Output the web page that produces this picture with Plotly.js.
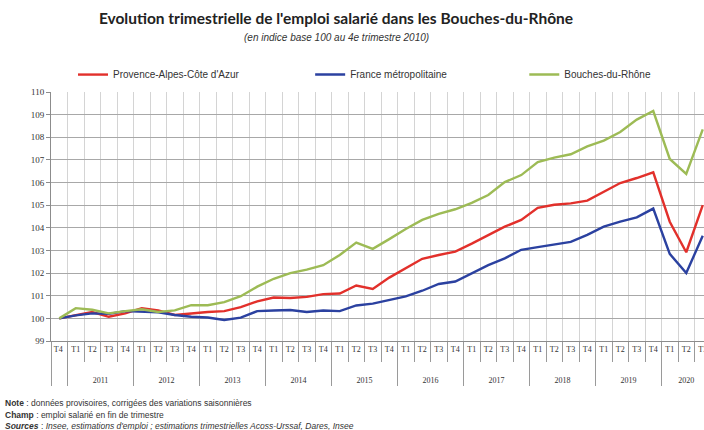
<!DOCTYPE html>
<html>
<head>
<meta charset="utf-8">
<script src="https://cdn.plot.ly/plotly-3.0.1.min.js"></script>
<style>
html,body{margin:0;padding:0;overflow:hidden;background:#fff;}
#chart{width:720px;height:430px;}
</style>
</head>
<body>
<div id="chart"></div>
<script>
const years = [' ',
  '2011','2011','2011','2011',
  '2012','2012','2012','2012',
  '2013','2013','2013','2013',
  '2014','2014','2014','2014',
  '2015','2015','2015','2015',
  '2016','2016','2016','2016',
  '2017','2017','2017','2017',
  '2018','2018','2018','2018',
  '2019','2019','2019','2019',
  '2020','2020','2020'];
const quarters = ['T4 ',
  'T1','T2','T3','T4',
  'T1','T2','T3','T4',
  'T1','T2','T3','T4',
  'T1','T2','T3','T4',
  'T1','T2','T3','T4',
  'T1','T2','T3','T4',
  'T1','T2','T3','T4',
  'T1','T2','T3','T4',
  'T1','T2','T3','T4',
  'T1','T2','T3'];

const paca = [100.0,
  100.15,100.28,100.07,100.22,
  100.45,100.35,100.15,100.22,
  100.28,100.32,100.50,100.75,
  100.92,100.90,100.95,101.07,
  101.10,101.45,101.30,101.80,
  102.20,102.63,102.80,102.95,
  103.30,103.68,104.05,104.35,
  104.88,105.02,105.08,105.20,
  105.60,105.98,106.20,106.45,
  104.27,102.92,105.00];

const france = [100.0,
  100.13,100.22,100.20,100.32,
  100.30,100.27,100.15,100.07,
  100.04,99.93,100.03,100.32,
  100.35,100.37,100.28,100.35,
  100.32,100.57,100.65,100.82,
  100.97,101.22,101.52,101.63,
  102.00,102.35,102.65,103.03,
  103.15,103.25,103.38,103.69,
  104.05,104.27,104.46,104.85,
  102.85,102.00,103.65];

const bdr = [100.0,
  100.45,100.38,100.22,100.32,
  100.40,100.28,100.35,100.58,
  100.58,100.72,100.98,101.40,
  101.75,102.00,102.15,102.35,
  102.80,103.35,103.07,103.50,
  103.95,104.35,104.62,104.82,
  105.10,105.45,106.02,106.33,
  106.90,107.10,107.25,107.60,
  107.85,108.23,108.78,109.16,
  107.04,106.38,108.35];

const seriesNames = ["Provence-Alpes-Côte d'Azur", "France métropolitaine", "Bouches-du-Rhône"];
const seriesColors = ['#e2302b', '#2b41a0', '#9dbb55'];
const seriesValues = [paca, france, bdr];
const legendIds = ['legend', 'legend2', 'legend3'];

// extra blank line under quarter labels pushes the year row down (as in the reference)
const quarterCells = quarters.map(q => q + '<br> <br> ');

const traces = seriesValues.map((vals, k) => ({
  type: 'scatter',
  mode: 'lines',
  x: [years, quarterCells],
  y: vals,
  name: seriesNames[k],
  legend: legendIds[k],
  line: {color: seriesColors[k], width: 2.4},
  hoverinfo: 'skip'
}));

const legendBase = {
  orientation: 'h',
  xanchor: 'left',
  yanchor: 'middle',
  y: 1.07,
  bgcolor: 'rgba(0,0,0,0)',
  font: {family: 'Liberation Sans, Arial, sans-serif', size: 10, color: '#333'},
  itemwidth: 30,
  tracegroupgap: 0
};

const noteFont = {family: 'Liberation Sans, Arial, sans-serif', size: 8.5, color: '#333'};

const layout = {
  width: 720,
  height: 430,
  margin: {l: 51, r: 9.4, t: 91.5, b: 88.5},
  paper_bgcolor: '#fff',
  plot_bgcolor: '#fff',
  showlegend: true,
  title: {
    text: "<b>Evolution trimestrielle de l'emploi salarié dans les Bouches-du-Rhône</b>",
    font: {family: 'Lato, Open Sans, sans-serif', size: 15.5, color: '#222'},
    x: 336/720, xanchor: 'center', xref: 'container',
    y: 1 - 19/430, yanchor: 'middle', yref: 'container'
  },
  legend: Object.assign({}, legendBase, {x: (73-51)/659.6}),
  legend2: Object.assign({}, legendBase, {x: (310-51)/659.6}),
  legend3: Object.assign({}, legendBase, {x: (524-51)/659.6}),
  xaxis: {
    type: 'multicategory',
    showgrid: true,
    gridcolor: '#d4d4d4',
    gridwidth: 1,
    showline: true,
    linecolor: '#8c8c8c',
    linewidth: 1,
    ticks: 'outside',
    ticklen: 20,
    tickcolor: '#9a9a9a',
    tickangle: 0,
    showdividers: true,
    dividercolor: '#9a9a9a',
    dividerwidth: 1,
    tickfont: {family: 'Liberation Serif, DejaVu Serif, serif', size: 8, color: '#333'},
    range: [-0.5, 39.5],
    fixedrange: true
  },
  yaxis: {
    range: [99, 110],
    dtick: 1,
    showgrid: true,
    gridcolor: '#a8a8a8',
    gridwidth: 1,
    zeroline: false,
    showline: true,
    linecolor: '#8c8c8c',
    ticks: 'outside',
    ticklen: 4,
    tickcolor: '#8c8c8c',
    tickfont: {family: 'Liberation Serif, DejaVu Serif, serif', size: 9, color: '#333'},
    fixedrange: true
  },
  annotations: [
    {text: "<i>(en indice base 100 au 4e trimestre 2010)</i>", xref: 'paper', yref: 'paper',
     x: (336-51)/659.6, y: (341.5-37)/250, xanchor: 'center', yanchor: 'middle', showarrow: false,
     font: {family: 'Liberation Sans, Arial, sans-serif', size: 10, color: '#333'}},
    {text: "<b>Note</b> : données provisoires, corrigées des variations saisonnières", xref: 'paper', yref: 'paper',
     x: (3-51)/659.6, y: (341.5-404)/250, xanchor: 'left', yanchor: 'middle', showarrow: false,
     font: noteFont},
    {text: "<b>Champ</b> : emploi salarié en fin de trimestre", xref: 'paper', yref: 'paper',
     x: (3-51)/659.6, y: (341.5-416)/250, xanchor: 'left', yanchor: 'middle', showarrow: false,
     font: noteFont},
    {text: "<b><i>Sources</i></b> : <i>Insee, estimations d'emploi ; estimations trimestrielles Acoss-Urssaf, Dares, Insee</i>", xref: 'paper', yref: 'paper',
     x: (3-51)/659.6, y: (341.5-427)/250, xanchor: 'left', yanchor: 'middle', showarrow: false,
     font: noteFont}
  ]
};

Plotly.newPlot('chart', traces, layout, {displayModeBar: false, staticPlot: true});
</script>
</body>
</html>
